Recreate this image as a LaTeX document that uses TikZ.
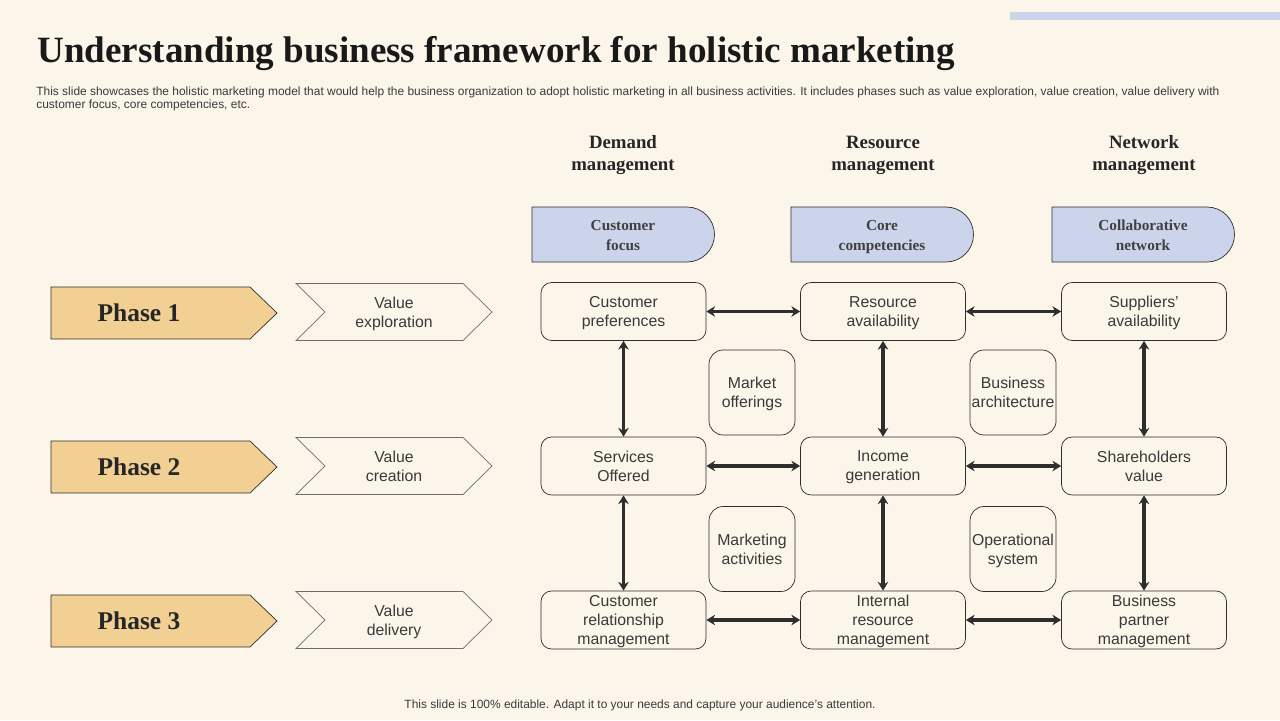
\documentclass[tikz,border=0pt]{standalone}
\usepackage{fontspec}
\setmainfont{Liberation Serif}
\setsansfont{Liberation Sans}
\usetikzlibrary{arrows.meta}
\definecolor{bgc}{HTML}{FBF5EA}
\definecolor{tabc}{HTML}{CBD4EA}
\definecolor{phasec}{HTML}{F2D094}
\definecolor{linec}{HTML}{2E2E2E}
\definecolor{txtc}{HTML}{3A3A3A}

\begin{document}
\begin{tikzpicture}[x=0.02cm, y=0.02cm,
    framebox/.style={draw=linec, fill=bgc, rounded corners=6pt, minimum width=3.3cm, minimum height=1.16cm, align=center, inner sep=1pt, text depth=0pt, text=txtc, font=\sffamily\fontsize{9}{10.8}\selectfont},
    smallbox/.style={framebox, rounded corners=8pt, minimum width=1.72cm, minimum height=1.7cm},
    headtext/.style={align=center, text depth=0pt, text=black!85, font=\bfseries\fontsize{10.7}{12.5}\selectfont},
    tabtext/.style={align=center, text depth=0pt, text=black!75, font=\bfseries\fontsize{8.7}{11.3}\selectfont},
    biarrow/.style={line width=1.8pt, draw=linec, {Stealth[length=5pt,width=6pt]}-{Stealth[length=5pt,width=6pt]}}]

\useasboundingbox (0,0) rectangle (1280,-720);
\fill[bgc] (0,0) rectangle (1280,-720);
\fill[tabc] (1010,-12) rectangle (1280,-20);

%Title and notes
\node[anchor=base west, inner sep=0pt, font=\bfseries\fontsize{21.1}{24}\selectfont, text=black!90] (title) at (37,-62) {Understanding business framework for holistic marketing};
\node[anchor=north west, inner sep=0pt, align=left, text=txtc, font=\sffamily\fontsize{6.8}{7.9}\selectfont] (note) at (36,-86) {This slide showcases the holistic marketing model that would help the business organization to adopt holistic marketing in all business activities. It includes phases such as value exploration, value creation, value delivery with\\customer focus, core competencies, etc.};
\node[inner sep=0pt, text=txtc, font=\sffamily\fontsize{6.8}{8}\selectfont] (foot) at (640,-705) {This slide is 100\% editable. Adapt it to your needs and capture your audience's attention.};

%Column heads
\node[headtext] (h1) at (623,-153) {Demand\\management};
\node[headtext] (h2) at (883,-153) {Resource\\management};
\node[headtext] (h3) at (1144,-153) {Network\\management};

%Tabs
\foreach \x/\n/\t in {532/1/{Customer\\focus}, 791/2/{Core\\competencies}, 1052/3/{Collaborative\\network}}{
  \draw[linec, fill=tabc] (\x,-207) -- (\x+155,-207) arc (90:-90:27.5) -- (\x,-262) -- cycle;
  \node[tabtext] (tab\n) at (\x+91,-235.5) {\t};
}

%Phases
\foreach \y/\n/\t in {313/1/{Value\\exploration}, 467/2/{Value\\creation}, 621/3/{Value\\delivery}}{
  \draw[linec, fill=phasec] (51,-\y+26) -- (250,-\y+26) -- (277,-\y) -- (250,-\y-26) -- (51,-\y-26) -- cycle;
  \node[font=\bfseries\fontsize{14.5}{16}\selectfont, text=black!85] (phase\n) at (139,-\y) {Phase \n};
  \draw[linec!70, fill=bgc] (296,-\y+29.5) -- (463,-\y+29.5) -- (492,-\y+1) -- (463,-\y-27.5) -- (296,-\y-27.5) -- (325,-\y+1) -- cycle;
  \node[align=center, text depth=0pt, text=txtc, font=\sffamily\fontsize{9}{10.8}\selectfont] (val\n) at (394,-\y+1) {\t};
}

%Grid boxes
\node[framebox] (c11) at (623.5,-311.5) {Customer\\preferences};
\node[framebox] (c12) at (883,-311.5) {Resource\\availability};
\node[framebox] (c13) at (1144,-311.5) {Suppliers'\\availability};
\node[framebox] (c21) at (623.5,-466) {Services\\Offered};
\node[framebox] (c22) at (883,-466) {Income\\generation};
\node[framebox] (c23) at (1144,-466) {Shareholders\\value};
\node[framebox] (c31) at (623.5,-620) {Customer\\relationship\\management};
\node[framebox] (c32) at (883,-620) {Internal\\resource\\management};
\node[framebox] (c33) at (1144,-620) {Business\\partner\\management};

\node[smallbox] (s1) at (752,-392.5) {Market\\offerings};
\node[smallbox] (s2) at (1013,-392.5) {Business\\architecture};
\node[smallbox] (s3) at (752,-549) {Marketing\\activities};
\node[smallbox] (s4) at (1013,-549) {Operational\\system};

%Links
\foreach \r in {1,2,3}{
  \draw[biarrow] (c\r1) -- (c\r2);
  \draw[biarrow] (c\r2) -- (c\r3);
}
\foreach \c in {1,2,3}{
  \draw[biarrow] (c1\c) -- (c2\c);
  \draw[biarrow] (c2\c) -- (c3\c);
}
\end{tikzpicture}
\end{document}
